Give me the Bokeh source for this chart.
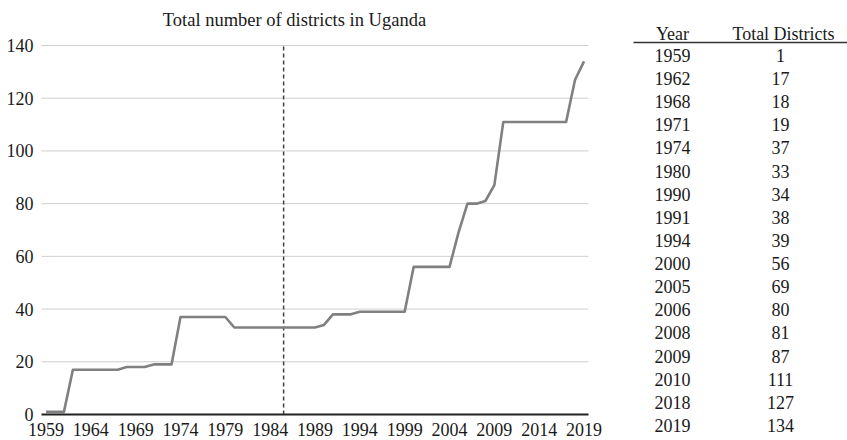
from bokeh.plotting import figure
from bokeh.models import Range1d, FixedTicker, ColumnDataSource
from bokeh.layouts import row
from bokeh.core.properties import value
from bokeh.embed import file_html
from bokeh.resources import INLINE

# ---- data ----
years = list(range(1959, 2020))
districts = [1, 1, 1,                       # 1959-1961
             17, 17, 17, 17, 17, 17,        # 1962-1967
             18, 18, 18,                    # 1968-1970
             19, 19, 19,                    # 1971-1973
             37, 37, 37, 37, 37, 37,        # 1974-1979
             33, 33, 33, 33, 33, 33, 33, 33, 33, 33,  # 1980-1989
             34,                            # 1990
             38, 38, 38,                    # 1991-1993
             39, 39, 39, 39, 39, 39,        # 1994-1999
             56, 56, 56, 56, 56,            # 2000-2004
             69,                            # 2005
             80, 80,                        # 2006-2007
             81,                            # 2008
             87,                            # 2009
             111, 111, 111, 111, 111, 111, 111, 111,  # 2010-2017
             127,                           # 2018
             134]                           # 2019
x_tick_years = [1959, 1964, 1969, 1974, 1979, 1984, 1989, 1994, 1999, 2004, 2009, 2014, 2019]
y_ticks = [0, 20, 40, 60, 80, 100, 120, 140]
marker_year = 1985.5
title_text = "Total number of districts in Uganda"

table_years = [1959, 1962, 1968, 1971, 1974, 1980, 1990, 1991, 1994, 2000,
               2005, 2006, 2008, 2009, 2010, 2018, 2019]
table_districts = [1, 17, 18, 19, 37, 33, 34, 38, 39, 56, 69, 80, 81, 87, 111, 127, 134]
table_headers = ["Year", "Total Districts"]

FONT = "Liberation Serif"
TXT = "#1a1a1a"
FS = "18px"

# category band edges of the yearly axis
x_lo = years[0] - 0.5
x_hi = years[-1] + 0.5

# ---- chart (frame covers the whole canvas; axes fixed inside it) ----
p = figure(width=608, height=440, output_backend="svg", toolbar_location=None,
           x_range=Range1d(1953.928, 2021.730), y_range=Range1d(-9.865, 157.073),
           min_border=0)
p.frame_align = False
p.outline_line_color = None
p.background_fill_color = "white"
p.border_fill_color = "white"
p.grid.visible = False

# horizontal gridlines at the y ticks, limited to the category band
p.segment(x0=[x_lo] * len(y_ticks), y0=y_ticks, x1=[x_hi] * len(y_ticks), y1=y_ticks,
          line_color="#cfcfcf", line_width=1)

p.xaxis.fixed_location = y_ticks[0]
p.xaxis.bounds = (x_lo, x_hi)
p.xaxis.ticker = FixedTicker(ticks=x_tick_years)
p.xaxis.major_tick_line_color = None
p.xaxis.minor_tick_line_color = None
p.xaxis.major_tick_out = 0
p.xaxis.major_tick_in = 0
p.xaxis.axis_line_color = "#222222"
p.xaxis.axis_line_width = 2
p.xaxis.major_label_text_font = FONT
p.xaxis.major_label_text_font_size = FS
p.xaxis.major_label_text_color = TXT
p.xaxis.major_label_standoff = 9

p.yaxis.fixed_location = x_lo
p.yaxis.ticker = FixedTicker(ticks=y_ticks)
p.yaxis.major_tick_line_color = None
p.yaxis.minor_tick_line_color = None
p.yaxis.major_tick_out = 0
p.yaxis.major_tick_in = 0
p.yaxis.axis_line_color = None
p.yaxis.major_label_text_font = FONT
p.yaxis.major_label_text_font_size = FS
p.yaxis.major_label_text_color = TXT
p.yaxis.major_label_standoff = 8

p.segment(x0=[marker_year], y0=[y_ticks[0]], x1=[marker_year], y1=[y_ticks[-1]],
          line_color="#404040", line_width=1.5, line_dash="4 3")

p.line(years, districts, line_color="#808080", line_width=2.6, line_join="round")

p.text(x=[1986.71], y=[149.86], text=[title_text], text_align="center",
       text_baseline="middle", text_font=value(FONT), text_font_size="18.5px",
       text_color=TXT)

# ---- table ----
t = figure(width=239, height=440, output_backend="svg", toolbar_location=None,
           x_range=Range1d(0, 239), y_range=Range1d(16.649, -2.378),
           x_axis_location=None, y_axis_location=None, min_border=0)
t.frame_align = False
t.grid.visible = False
t.outline_line_color = None

rows_idx = list(range(len(table_years)))
src = ColumnDataSource(dict(
    y=rows_idx,
    yr=[str(v) for v in table_years],
    d=[str(v) for v in table_districts],
    xy=[64] * len(rows_idx),
    xd=[172] * len(rows_idx),
))
t.text(x="xy", y="y", text="yr", source=src, text_align="center", text_baseline="middle",
       text_font=value(FONT), text_font_size=FS, text_color=TXT)
t.text(x="xd", y="y", text="d", source=src, text_align="center", text_baseline="middle",
       text_font=value(FONT), text_font_size=FS, text_color=TXT)
t.text(x=[64, 175], y=[-0.95, -0.95], text=table_headers, text_align="center",
       text_baseline="middle", text_font=value(FONT), text_font_size=FS, text_color=TXT)
t.segment(x0=[25], y0=[-0.562], x1=[239], y1=[-0.562], line_color="#333333", line_width=1.5)

layout = row(p, t)
open("out.html", "w").write(file_html(layout, INLINE))
